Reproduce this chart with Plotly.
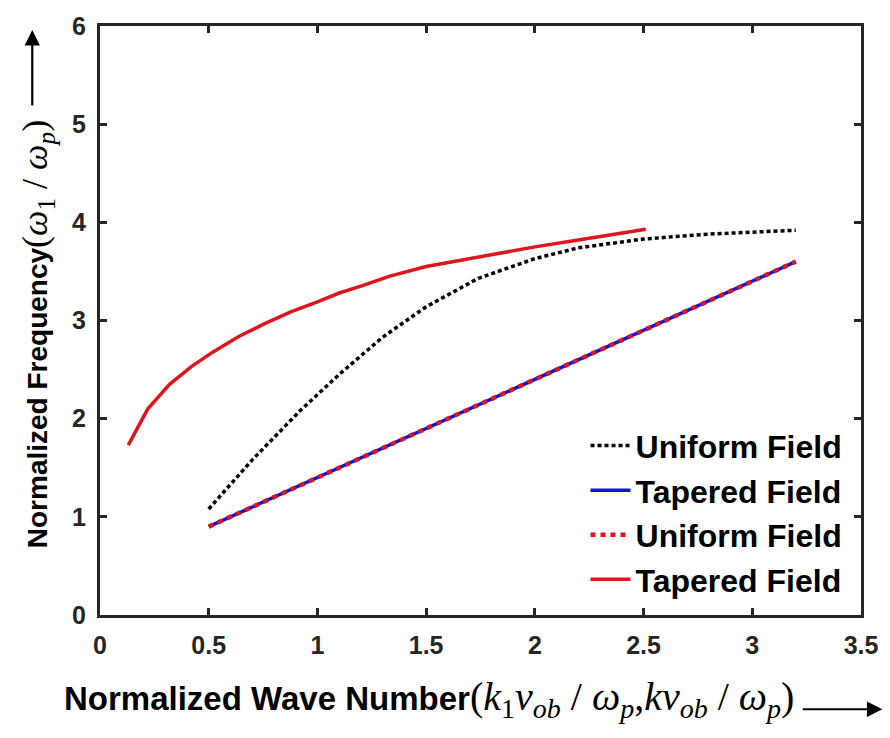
import plotly.graph_objects as go

# ---- data ----
uniform_k = [0.5, 0.7, 0.92, 1.1, 1.3, 1.5, 1.74, 2.0, 2.2, 2.5, 2.8, 3.2]
uniform_w = [1.08, 1.58, 2.08, 2.45, 2.83, 3.14, 3.43, 3.63, 3.74, 3.83, 3.88, 3.92]

line_k = [0.5, 1.0, 1.5, 2.0, 2.5, 3.0, 3.2]
line_w = [0.9, 1.4, 1.9, 2.4, 2.9, 3.4, 3.6]

tapered_k = [0.13, 0.22, 0.32, 0.42, 0.52, 0.64, 0.76, 0.88, 1.0, 1.1, 1.2, 1.33, 1.5, 1.74, 2.0, 2.2, 2.51]
tapered_w = [1.73, 2.1, 2.35, 2.53, 2.68, 2.84, 2.97, 3.09, 3.19, 3.28, 3.35, 3.45, 3.55, 3.65, 3.75, 3.82, 3.93]

names = ["Uniform Field", "Tapered Field", "Uniform Field", "Tapered Field"]
x_ticks = [0, 0.5, 1, 1.5, 2, 2.5, 3, 3.5]
y_ticks = [0, 1, 2, 3, 4, 5, 6]

RED = "#dd161e"
BLUE = "#1414d2"
AXC = "#262626"
SANS = "Arial, Liberation Sans, sans-serif"
SERIF = "Times New Roman, Liberation Serif, serif"

fig = go.Figure()
fig.add_trace(go.Scatter(x=uniform_k, y=uniform_w, mode="lines", name=names[0],
                         line=dict(color="black", width=3.5, dash="4px,3px")))
fig.add_trace(go.Scatter(x=line_k, y=line_w, mode="lines", name=names[1],
                         line=dict(color=BLUE, width=3.5)))
fig.add_trace(go.Scatter(x=line_k, y=line_w, mode="lines", name=names[2],
                         line=dict(color=RED, width=4.5, dash="5px,5px")))
fig.add_trace(go.Scatter(x=tapered_k, y=tapered_w, mode="lines", name=names[3],
                         line=dict(color=RED, width=3.5)))

axis_common = dict(
    showline=True, linecolor=AXC, linewidth=3, mirror="ticks",
    ticks="inside", ticklen=7, tickwidth=2.5, tickcolor=AXC,
    showgrid=False, zeroline=False,
    tickfont=dict(family=SANS, size=25, color=AXC, weight="bold"),
)
fig.update_xaxes(range=[0, 3.5], tickvals=x_ticks, ticktext=[str(t) for t in x_ticks],
                 ticklabelstandoff=6, **axis_common)
fig.update_yaxes(range=[0, 6], tickvals=y_ticks, ticktext=[str(t) for t in y_ticks],
                 ticklabelstandoff=6, **axis_common)

def serif(s, size):
    return f"<span style='font-family:{SERIF};font-weight:normal;font-size:{size}px'>{s}</span>"

xtitle = ("<b>Normalized Wave Number</b>"
          + serif("(<i>k</i><sub>1</sub><i>v</i><sub><i>ob</i></sub> / <i>ω</i><sub><i>p</i></sub>,"
                  "<i>kv</i><sub><i>ob</i></sub> / <i>ω</i><sub><i>p</i></sub>)", 40))
ytitle = ("<b>Normalized Frequency</b>"
          + serif("(<i>ω</i><sub>1</sub> / <i>ω</i><sub><i>p</i></sub>)", 36))

annotations = [
    dict(text=xtitle, xref="paper", yref="paper", x=-0.0497, y=-0.142,
         xanchor="left", yanchor="middle", showarrow=False,
         font=dict(family=SANS, size=33, color="black")),
    dict(text=ytitle, xref="paper", yref="paper", x=-0.082, y=0.476,
         xanchor="center", yanchor="middle", textangle=-90, showarrow=False,
         font=dict(family=SANS, size=28, color="black")),
    # arrows
    dict(text="", xref="paper", yref="paper", x=1.028, y=-0.160, ax=-81, ay=0,
         showarrow=True, arrowhead=2, arrowsize=1.4, arrowwidth=2.2, arrowcolor="black"),
    dict(text="", xref="paper", yref="paper", x=-0.089, y=0.993, ax=0, ay=77,
         showarrow=True, arrowhead=2, arrowsize=1.4, arrowwidth=2.2, arrowcolor="black"),
]

fig.update_layout(
    width=890, height=738,
    margin=dict(l=100, r=26, t=14, b=123),
    paper_bgcolor="white", plot_bgcolor="white",
    showlegend=True,
    legend=dict(x=0.638, y=0.334, xanchor="left", yanchor="top",
                bgcolor="rgba(0,0,0,0)", borderwidth=0,
                font=dict(family=SANS, size=32, color="black", weight="bold"),
                itemwidth=40, tracegroupgap=0),
    annotations=annotations,
)

fig.write_html("out.html")
